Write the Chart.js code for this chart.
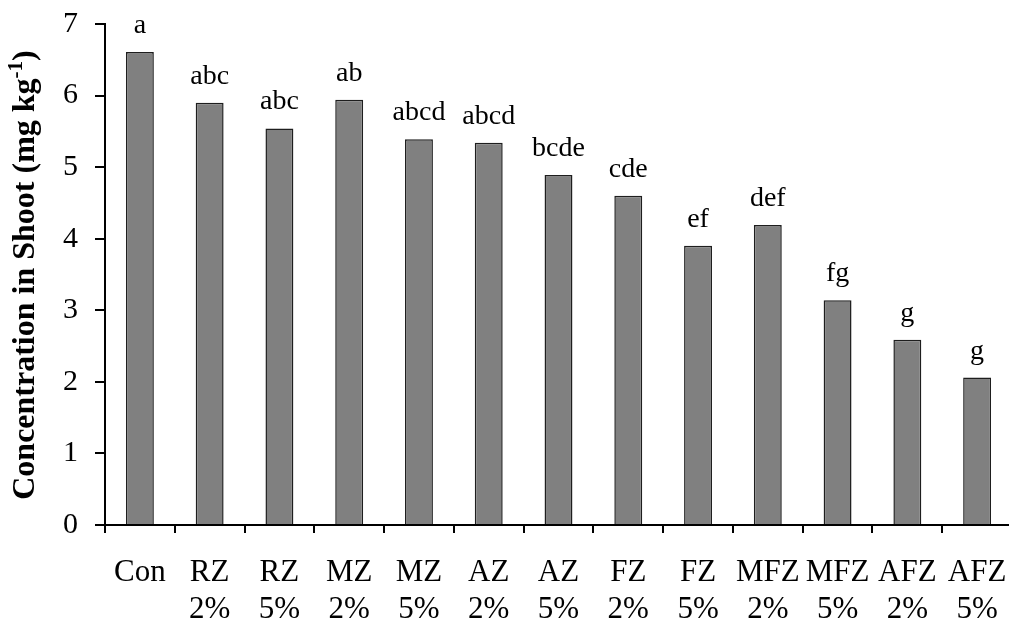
<!DOCTYPE html>
<html>
<head>
<meta charset="utf-8">
<title>Concentration in Shoot</title>
<script src="https://cdn.jsdelivr.net/npm/chart.js@4.4.1/dist/chart.umd.min.js"></script>
<style>
    html, body { margin: 0; padding: 0; background: #fff; overflow: hidden; }
    #wrap { width: 1014px; height: 624px; }
</style>
</head>
<body>
<div id="wrap"><canvas id="shootChart" width="1014" height="624"></canvas></div>
<script>
// Treatments (two-line tick labels)
const categories = [
    ['Con', ''], ['RZ', '2%'], ['RZ', '5%'], ['MZ', '2%'], ['MZ', '5%'],
    ['AZ', '2%'], ['AZ', '5%'], ['FZ', '2%'], ['FZ', '5%'],
    ['MFZ', '2%'], ['MFZ', '5%'], ['AFZ', '2%'], ['AFZ', '5%']
];

// Concentration in shoot (mg kg-1)
const shootValues = [6.61, 5.90, 5.54, 5.94, 5.39, 5.34, 4.89, 4.60, 3.90, 4.19, 3.14, 2.59, 2.06];

// Significance letters above the bars
const groupLetters = ['a', 'abc', 'abc', 'ab', 'abcd', 'abcd', 'bcde', 'cde', 'ef', 'def', 'fg', 'g', 'g'];

// Y tick values
const yTicks = [0, 1, 2, 3, 4, 5, 6, 7];

const serif = "'Liberation Serif', 'Times New Roman', serif";

document.addEventListener('DOMContentLoaded', function() {
    Chart.defaults.font.family = serif;
    Chart.defaults.color = '#000';
    initShootChart();
});

// Letters drawn above each bar
const letterPlugin = {
    id: 'letterPlugin',
    afterDatasetsDraw(chart) {
        const ctx = chart.ctx;
        const meta = chart.getDatasetMeta(0);
        ctx.save();
        ctx.font = '28px ' + serif;
        ctx.fillStyle = '#000';
        ctx.textAlign = 'center';
        ctx.textBaseline = 'alphabetic';
        meta.data.forEach((bar, i) => {
            ctx.fillText(groupLetters[i], bar.x, bar.y - 19);
        });
        ctx.restore();
    }
};

// Rotated y title with superscript -1
const yTitlePlugin = {
    id: 'yTitlePlugin',
    afterDraw(chart) {
        const ctx = chart.ctx;
        const main = 'Concentration in Shoot (mg kg';
        const sup = '-1';
        const tail = ')';
        const bigFont = 'bold 32px ' + serif;
        const supFont = 'bold 21px ' + serif;

        ctx.save();
        ctx.font = bigFont;
        const wMain = ctx.measureText(main).width;
        const wTail = ctx.measureText(tail).width;
        ctx.font = supFont;
        const wSup = ctx.measureText(sup).width;
        const total = wMain + wSup + wTail;

        ctx.translate(34, 275);
        ctx.rotate(-Math.PI / 2);
        ctx.fillStyle = '#000';
        ctx.textAlign = 'left';
        ctx.textBaseline = 'alphabetic';
        let x = -total / 2;
        ctx.font = bigFont;
        ctx.fillText(main, x, 0);
        x += wMain;
        ctx.font = supFont;
        ctx.fillText(sup, x, -12);
        x += wSup;
        ctx.font = bigFont;
        ctx.fillText(tail, x, 0);
        ctx.restore();
    }
};

function initShootChart() {
    const ctx = document.getElementById('shootChart');
    if (!ctx) return;

    new Chart(ctx, {
        type: 'bar',
        data: {
            labels: categories,
            datasets: [{
                data: shootValues,
                backgroundColor: '#808080',
                borderColor: '#1e1e1e',
                borderWidth: 1.5,
                barPercentage: 0.4,
                categoryPercentage: 1.0
            }]
        },
        options: {
            responsive: false,
            animation: false,
            devicePixelRatio: 1,
            layout: {
                padding: { top: 24, right: 2, bottom: 0, left: 0 }
            },
            plugins: {
                legend: { display: false },
                tooltip: { enabled: false }
            },
            scales: {
                x: {
                    afterFit: function(scale) {
                        scale.height = 99;
                        scale.paddingLeft = 0;
                        scale.paddingRight = 0;
                    },
                    grid: {
                        offset: true,
                        drawOnChartArea: false,
                        tickLength: 8,
                        color: '#000',
                        lineWidth: 2
                    },
                    border: { display: true, color: '#000', width: 2 },
                    ticks: {
                        font: { size: 31, family: serif, lineHeight: 1.2 },
                        color: '#000',
                        padding: 21,
                        maxRotation: 0,
                        autoSkip: false
                    }
                },
                y: {
                    min: 0,
                    max: 7,
                    afterFit: function(scale) {
                        scale.width = 105;
                        // keep the plot top at the padding line
                        scale.paddingTop = 0;
                        scale.paddingBottom = 0;
                    },
                    afterBuildTicks: function(scale) {
                        scale.ticks = yTicks.map(v => ({ value: v }));
                    },
                    grid: {
                        drawOnChartArea: false,
                        tickLength: 10,
                        color: '#000',
                        lineWidth: 2
                    },
                    border: { display: true, color: '#000', width: 2 },
                    ticks: {
                        font: { size: 30, family: serif },
                        color: '#000',
                        padding: 17
                    }
                }
            }
        },
        plugins: [letterPlugin, yTitlePlugin]
    });
}
</script>
</body>
</html>
